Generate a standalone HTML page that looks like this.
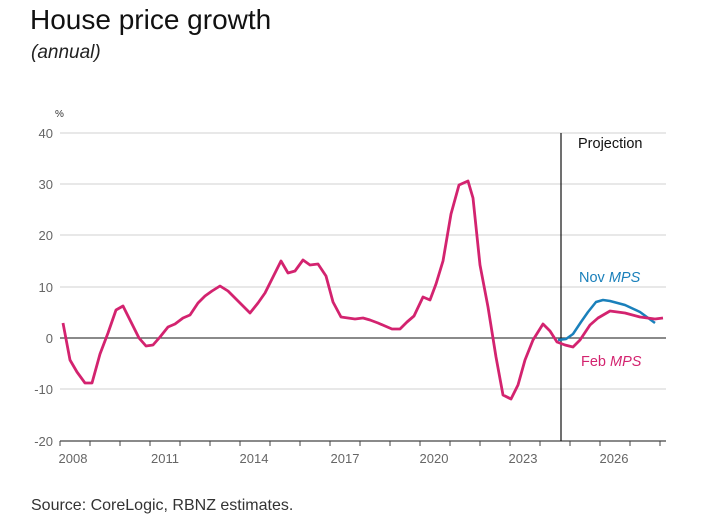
<!DOCTYPE html>
<html><head><meta charset="utf-8"><style>
html,body{margin:0;padding:0;background:#fff;width:709px;height:524px;overflow:hidden}
</style></head><body>
<svg width="709" height="524" xmlns="http://www.w3.org/2000/svg" font-family="Liberation Sans, sans-serif">
<text x="30" y="29" font-size="28" fill="#111">House price growth</text>
<text x="31" y="58" font-size="19" font-style="italic" fill="#222">(annual)</text>
<text x="55" y="117" font-size="10" fill="#333">%</text>
<g stroke="#d9d9d9" stroke-width="1.2">
<line x1="60" x2="666" y1="133" y2="133"/><line x1="60" x2="666" y1="184" y2="184"/>
<line x1="60" x2="666" y1="235" y2="235"/><line x1="60" x2="666" y1="287" y2="287"/>
<line x1="60" x2="666" y1="389" y2="389"/>
</g>
<line x1="60" x2="666" y1="338" y2="338" stroke="#444" stroke-width="1.2"/>
<line x1="60" x2="666" y1="441" y2="441" stroke="#444" stroke-width="1.2"/>
<g stroke="#444" stroke-width="1">
<line x1="60" x2="60" y1="441" y2="446"/><line x1="90" x2="90" y1="441" y2="446"/><line x1="120" x2="120" y1="441" y2="446"/><line x1="150" x2="150" y1="441" y2="446"/><line x1="180" x2="180" y1="441" y2="446"/><line x1="210" x2="210" y1="441" y2="446"/><line x1="240" x2="240" y1="441" y2="446"/><line x1="270" x2="270" y1="441" y2="446"/><line x1="300" x2="300" y1="441" y2="446"/><line x1="330" x2="330" y1="441" y2="446"/><line x1="360" x2="360" y1="441" y2="446"/><line x1="390" x2="390" y1="441" y2="446"/><line x1="420" x2="420" y1="441" y2="446"/><line x1="450" x2="450" y1="441" y2="446"/><line x1="480" x2="480" y1="441" y2="446"/><line x1="510" x2="510" y1="441" y2="446"/><line x1="540" x2="540" y1="441" y2="446"/><line x1="570" x2="570" y1="441" y2="446"/><line x1="600" x2="600" y1="441" y2="446"/><line x1="630" x2="630" y1="441" y2="446"/><line x1="660" x2="660" y1="441" y2="446"/>
</g>
<g font-size="13" fill="#666" text-anchor="end">
<text x="53" y="138">40</text><text x="53" y="189">30</text><text x="53" y="240">20</text><text x="53" y="292">10</text><text x="53" y="343">0</text><text x="53" y="394">-10</text><text x="53" y="446">-20</text>
</g>
<g font-size="13" fill="#666" text-anchor="middle">
<text x="73" y="463">2008</text><text x="165" y="463">2011</text><text x="254" y="463">2014</text><text x="345" y="463">2017</text><text x="434" y="463">2020</text><text x="523" y="463">2023</text><text x="614" y="463">2026</text>
</g>
<line x1="561" x2="561" y1="133" y2="441" stroke="#111" stroke-width="1.2"/>
<text x="578" y="148" font-size="14.5" fill="#111">Projection</text>
<polyline fill="none" stroke="#1a80bb" stroke-width="2.5" stroke-linejoin="round" points="558,340 566,339 573,334 581,322 588,312 596,302 603,300 610,301 625,305 640,312 655,323"/>
<polyline fill="none" stroke="#d3236f" stroke-width="2.8" stroke-linejoin="round" points="63,323 70,360 77,372 85,383 92,383 100,354 108,333 116,310 123,306 131,322 139,338 146,346 153,345 160,337 168,327 175,324 183,318 190,315 198,303 205,296 212,291 220,286 228,291 236,299 243,306 250,313 258,303 265,293 273,277 281,261 288,273 295,271 303,260 310,265 318,264 326,276 333,302 341,317 348,318 355,319 363,318 370,320 378,323 385,326 392,329 400,329 407,322 414,316 423,297 430,300 436,284 443,261 451,214 459,185 468,181 473,198 480,265 488,307 496,357 503,395 511,399 518,385 525,360 533,340 543,324 550,331 557,342 565,345 573,347 580,340 590,325 598,318 610,311 625,313 640,317 655,319 663,318"/>
<text x="579" y="282" font-size="14.5" fill="#1a80bb">Nov <tspan font-style="italic">MPS</tspan></text>
<text x="581" y="366" font-size="14.5" fill="#d3236f">Feb <tspan font-style="italic">MPS</tspan></text>
<text x="31" y="510" font-size="16" fill="#333">Source: CoreLogic, RBNZ estimates.</text>
</svg>
</body></html>
